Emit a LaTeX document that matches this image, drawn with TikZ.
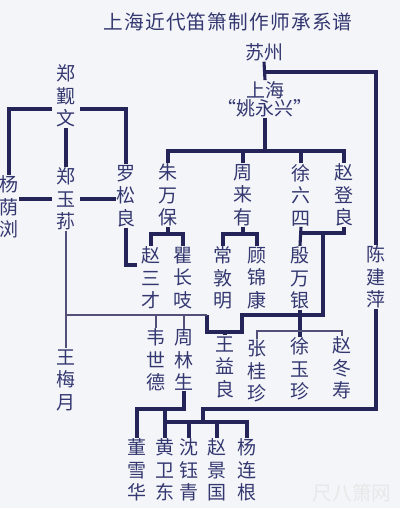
\documentclass[tikz,border=0pt]{standalone}
\usepackage{fontspec}
\newfontfamily\cjk{Noto Sans CJK SC}
\newfontfamily\cjktitle[LetterSpace=6]{Noto Sans CJK SC}
\usetikzlibrary{calc}
\definecolor{ink}{RGB}{52,56,112}
\definecolor{wire}{RGB}{36,36,88}
\definecolor{paper}{RGB}{244,245,249}

\begin{document}
\begin{tikzpicture}[
  x=0.25mm, y=-0.25mm,
  every node/.style={font=\cjk\fontsize{13.5}{16}\selectfont, text=ink, inner sep=0.5pt},
  person/.style={align=center},
  link/.style={draw=wire, line width=2.2pt},
  thin link/.style={draw=wire!80, line width=1.4pt}
]
  \fill[paper] (0,0) rectangle (400,508);
  \useasboundingbox (0,0) rectangle (400,508);

  \node[font=\cjktitle\fontsize{14}{16}\selectfont] (title) at (228,22) {上海近代笛箫制作师承系谱};
  \node (suzhou) at (264,52) {苏州};
  \node[align=center, font=\cjk\fontsize{13.5}{13}\selectfont] (shanghai) at (265,99) {上海\\“姚永兴”};

  % the makers, written top to bottom
  \foreach \id/\x/\y/\txt in {
      zhengjw/66/96/{郑\\觐\\文}, yangyl/9/207/{杨\\荫\\浏},
      zhengys/66/199/{郑\\玉\\荪}, luosl/126/196/{罗\\松\\良},
      zhuwb/168/195/{朱\\万\\保}, zhouly/243/195/{周\\来\\有},
      xull/301/195/{徐\\六\\四}, zhaodl/344/195/{赵\\登\\良},
      zhaosc/151/278/{赵\\三\\才}, qucz/183/278/{瞿\\长\\吱},
      changdm/223/278/{常\\敦\\明}, gujk/257/278/{顾\\锦\\康},
      yinwy/300/278/{殷\\万\\银}, chenjp/376/277/{陈\\建\\萍},
      wangmy/66/380/{王\\梅\\月}, weisd/156/360/{韦\\世\\德},
      zhouls/184/360/{周\\林\\生}, wangyl/225/367/{王\\益\\良},
      zhanggz/257/371/{张\\桂\\珍}, xuyz/300/369/{徐\\玉\\珍},
      zhaods/342/368/{赵\\冬\\寿},
      dongxh/137/470/{董\\雪\\华}, huangwd/165/470/{黄\\卫\\东},
      shenyq/189/470/{沈\\钰\\青}, zhaojg/217/470/{赵\\景\\国},
      yanglg/247/470/{杨\\连\\根}}
    \node[person] (\id) at (\x,\y) {\txt};

  \node[font=\cjk\fontsize{14}{15}\selectfont, text=black!9] (mark) at (352,493) {尺八箫网};

  % 苏州 / 上海
  \draw[link] (suzhou.south) -- (shanghai.north);
  \draw[link] (suzhou.south |- 0,72) -| (chenjp.north);
  \draw[link] (shanghai.south) -- (shanghai.south |- 0,151);
  \draw[link] (zhuwb.north) |- (zhaodl.north |- 0,151) -- (zhaodl.north);
  \draw[link] (zhouly.north) -- (zhouly.north |- 0,151);
  \draw[link] (xull.north) -- (xull.north |- 0,151);

  % 郑觐文 / 郑玉荪
  \draw[link] ([xshift=-1mm]zhengjw.west |- 0,109) -| (yangyl.north);
  \draw[link] ([xshift=1mm]zhengjw.east |- 0,109) -| (luosl.north);
  \draw[link] (zhengjw.south) -- (zhengys.north);
  \draw[link] ([xshift=-1mm]zhengys.west) -- (yangyl.east |- zhengys.west);
  \draw[link] ([xshift=1mm]zhengys.east) -- (luosl.west |- zhengys.east);
  \draw[link] (luosl.south) |- ([xshift=-1mm]zhaosc.west |- 0,265);

  % second generation
  \draw[link] (zhuwb.south) -- (zhuwb.south |- 0,234);
  \draw[link] (zhaosc.north) |- (qucz.north |- 0,234) -- (qucz.north);
  \draw[link] (zhouly.south) -- (zhouly.south |- 0,234);
  \draw[link] (changdm.north) |- (gujk.north |- 0,234) -- (gujk.north);
  \draw[link] (xull.south) -- (yinwy.north);
  \draw[link] (xull.south |- 0,233) -| (zhaodl.south);
  \coordinate (stepR) at (242,332);
  \coordinate (stepL) at (207,332);
  \draw[link] (323,233) |- (stepR |- 0,315) -- (stepR) -- (stepL) -- (stepL |- 0,315);
  \draw[thin link] (stepL |- 0,315) -- (zhengys.south |- 0,315);
  \draw[thin link] (zhengys.south) -- (wangmy.north);
  \draw[thin link] (weisd.north) -- (weisd.north |- 0,315);
  \draw[thin link] (zhouls.north) -- (zhouls.north |- 0,315);
  \draw[link] (wangyl.north) -- (wangyl.north |- stepR);
  \draw[link] (yinwy.south) -- (xuyz.north);
  \draw[thin link] (zhanggz.north) |- (zhaods.north |- 0,331) -- (zhaods.north);

  % bottom row
  \draw[link] (zhouls.south) |- (dongxh.north |- 0,409) -- (dongxh.north);
  \draw[link] (huangwd.north |- 0,409) -- (huangwd.north);
  \draw[link] (huangwd.north |- 0,422) -- (yanglg.north |- 0,422) -- (yanglg.north);
  \draw[link] (shenyq.north) -- (shenyq.north |- 0,422);
  \draw[link] (zhaojg.north) -- (zhaojg.north |- 0,422);
  \draw[link] (chenjp.south) |- (203,409) -- (203,422);
\end{tikzpicture}
\end{document}
